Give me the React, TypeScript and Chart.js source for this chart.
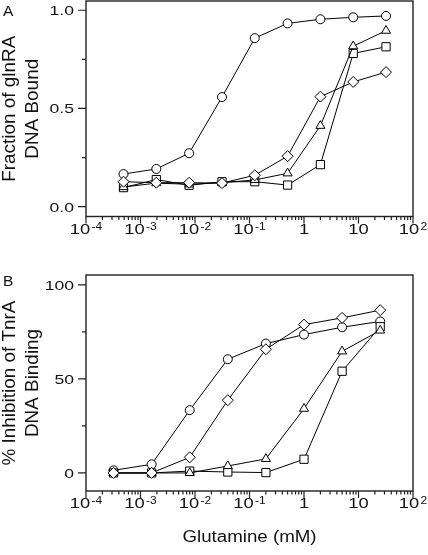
import React, { useEffect, useRef } from "react";
import { Chart, registerables } from "chart.js";

Chart.register(...registerables);

const FONT = '"Liberation Sans", Arial, Helvetica, sans-serif';

// Panel A: glutamine (mM) vs fraction of glnRA DNA bound
const concA = [0.000488, 0.00195, 0.0078, 0.0313, 0.125, 0.5, 2, 8, 32];
const boundCircle = [0.166, 0.192, 0.272, 0.558, 0.858, 0.933, 0.954, 0.964, 0.971];
const boundSquare = [0.097, 0.138, 0.109, 0.127, 0.127, 0.11, 0.214, 0.78, 0.814];
const boundTriangle = [0.1, 0.12, 0.114, 0.122, 0.136, 0.17, 0.412, 0.817, 0.896];
const boundDiamond = [0.127, 0.122, 0.122, 0.12, 0.16, 0.257, 0.56, 0.635, 0.685];

// Panel B: glutamine (mM) vs % inhibition of TnrA DNA binding
const concB = [0.00032, 0.0016, 0.008, 0.04, 0.2, 1, 5, 25];
const inhibCircle = [1.4, 4.6, 33.4, 60.5, 68.8, 73.6, 77.5, 80.6];
const inhibSquare = [0, 0, 1, 0.5, 0.2, 7.3, 54.1, 77.8];
const inhibTriangle = [0, 0, 0, 3.7, 7.5, 34.2, 64.7, 75.8];
const inhibDiamond = [0, 0, 8.3, 38.7, 65.8, 78.9, 82.5, 86.6];

// Axis ticks
const xDecades = [-4, -3, -2, -1, 0, 1, 2];
const yMajorA = [0, 0.5, 1.0];
const yMinorA = [0.25, 0.75];
const yLabelsA = ["0.0", "0.5", "1.0"];
const yMajorB = [0, 50, 100];
const yMinorB = [25, 75];
const yLabelsB = ["0", "50", "100"];

function txt(
  ctx: CanvasRenderingContext2D,
  s: string,
  x: number,
  y: number,
  size: number,
  sx: number,
  align: CanvasTextAlign,
  rot = 0
) {
  ctx.save();
  ctx.translate(x, y);
  if (rot) ctx.rotate(rot);
  ctx.scale(sx, 1);
  ctx.font = `${size}px ${FONT}`;
  ctx.textAlign = align;
  ctx.textBaseline = "alphabetic";
  ctx.fillStyle = "#111";
  ctx.fillText(s, 0, 0);
  ctx.restore();
}

function measure(ctx: CanvasRenderingContext2D, s: string, size: number, sx: number) {
  ctx.save();
  ctx.font = `${size}px ${FONT}`;
  const w = ctx.measureText(s).width * sx;
  ctx.restore();
  return w;
}

type PanelOpts = {
  letter: string;
  titleLines: string[];
  yMajor: number[];
  yMinor: number[];
  yLabels: string[];
  letterBaseline: number;
};

function makePlugin(o: PanelOpts) {
  return {
    id: "customAxes",
    beforeDatasetsDraw(chart: any) {
      const ctx: CanvasRenderingContext2D = chart.ctx;
      const a = chart.chartArea;
      const xs = chart.scales.x;
      const ys = chart.scales.y;
      ctx.save();
      ctx.strokeStyle = "#222";
      ctx.lineWidth = 1.4;
      ctx.strokeRect(a.left, a.top, a.right - a.left, a.bottom - a.top);
      ctx.lineWidth = 1.2;
      ctx.beginPath();
      // x ticks
      for (const d of xDecades) {
        const px = xs.getPixelForValue(Math.pow(10, d));
        ctx.moveTo(px, a.bottom);
        ctx.lineTo(px, a.bottom + 7);
        if (d < 2) {
          for (let k = 2; k <= 9; k++) {
            const pm = xs.getPixelForValue(k * Math.pow(10, d));
            ctx.moveTo(pm, a.bottom);
            ctx.lineTo(pm, a.bottom + 3.5);
          }
        }
      }
      // y ticks
      for (const v of o.yMajor) {
        const py = ys.getPixelForValue(v);
        ctx.moveTo(a.left, py);
        ctx.lineTo(a.left - 8, py);
      }
      for (const v of o.yMinor) {
        const py = ys.getPixelForValue(v);
        ctx.moveTo(a.left, py);
        ctx.lineTo(a.left - 4, py);
      }
      ctx.stroke();
      ctx.restore();
    },
    afterDraw(chart: any) {
      const ctx: CanvasRenderingContext2D = chart.ctx;
      const a = chart.chartArea;
      const xs = chart.scales.x;
      const ys = chart.scales.y;
      // y tick labels
      const ySize = 13.5;
      o.yMajor.forEach((v, i) => {
        const py = ys.getPixelForValue(v);
        txt(ctx, o.yLabels[i], a.left - 12, py + ySize * 0.716 / 2, ySize, 1.3, "right");
      });
      // x tick labels
      const mSize = 15;
      const mSx = 1.22;
      const sSize = 10;
      const sSx = 1.2;
      const base = a.bottom + 17;
      for (const d of xDecades) {
        const px = xs.getPixelForValue(Math.pow(10, d));
        if (d === 0 || d === 1) {
          txt(ctx, d === 0 ? "1" : "10", px, base, mSize, mSx, "center");
        } else {
          const sup = String(d);
          const wm = measure(ctx, "10", mSize, mSx);
          const ws = measure(ctx, sup, sSize, sSx);
          const total = wm + 1.5 + ws;
          const start = px - total / 2;
          txt(ctx, "10", start, base, mSize, mSx, "left");
          const supBase = base - (mSize * 0.716 - sSize * 0.716);
          txt(ctx, sup, start + wm + 1.5, supBase, sSize, sSx, "left");
        }
      }
      // y title (rotated)
      const cy = (a.top + a.bottom) / 2;
      const tSize = 18;
      const tSx = 1.05;
      txt(ctx, o.titleLines[0], 14.5, cy, tSize, tSx, "center", -Math.PI / 2);
      txt(ctx, o.titleLines[1], 38, cy, tSize, tSx, "center", -Math.PI / 2);
      // panel letter
      txt(ctx, o.letter, 3, o.letterBaseline, 15.5, 1.0, "left");
    },
  };
}

function lineDataset(data: number[], xs: number[], style: string, radius: number) {
  return {
    data: xs.map((x, i) => ({ x, y: data[i] })),
    borderColor: "#000",
    borderWidth: 1,
    pointStyle: style,
    pointRadius: radius,
    pointBackgroundColor: "#fff",
    pointBorderColor: "#000",
    pointBorderWidth: 1,
    tension: 0,
    fill: false,
  };
}

function makeConfig(
  xs: number[],
  series: { data: number[]; style: string; radius: number }[],
  yMin: number,
  yMax: number,
  padding: { left: number; right: number; top: number; bottom: number },
  o: PanelOpts
): any {
  return {
    type: "line",
    data: {
      datasets: series.map((s) => lineDataset(s.data, xs, s.style, s.radius)),
    },
    options: {
      animation: false,
      responsive: false,
      devicePixelRatio: 1,
      layout: { padding, autoPadding: false },
      plugins: { legend: { display: false }, tooltip: { enabled: false } },
      scales: {
        x: { type: "logarithmic", min: 1e-4, max: 1e2, display: false },
        y: { type: "linear", min: yMin, max: yMax, display: false },
      },
      elements: { line: { tension: 0 } },
    },
    plugins: [makePlugin(o)],
  };
}

export default function App() {
  const refA = useRef<HTMLCanvasElement | null>(null);
  const refB = useRef<HTMLCanvasElement | null>(null);

  useEffect(() => {
    const chartA = new Chart(
      refA.current as HTMLCanvasElement,
      makeConfig(
        concA,
        [
          { data: boundDiamond, style: "rectRot", radius: 5.5 },
          { data: boundTriangle, style: "triangle", radius: 5.2 },
          { data: boundSquare, style: "rect", radius: 5.8 },
          { data: boundCircle, style: "circle", radius: 4.5 },
        ],
        -0.05,
        1.047,
        { left: 86, right: 15, top: 1, bottom: 45.5 },
        {
          letter: "A",
          titleLines: ["Fraction of glnRA", "DNA Bound"],
          yMajor: yMajorA,
          yMinor: yMinorA,
          yLabels: yLabelsA,
          letterBaseline: 16,
        }
      )
    );
    const chartB = new Chart(
      refB.current as HTMLCanvasElement,
      makeConfig(
        concB,
        [
          { data: inhibDiamond, style: "rectRot", radius: 5.5 },
          { data: inhibTriangle, style: "triangle", radius: 5.2 },
          { data: inhibSquare, style: "rect", radius: 5.8 },
          { data: inhibCircle, style: "circle", radius: 4.5 },
        ],
        -9.6,
        105.3,
        { left: 86, right: 15, top: 13, bottom: 64 },
        {
          letter: "B",
          titleLines: ["% Inhibition of TnrA", "DNA Binding"],
          yMajor: yMajorB,
          yMinor: yMinorB,
          yLabels: yLabelsB,
          letterBaseline: 24,
        }
      )
    );
    return () => {
      chartA.destroy();
      chartB.destroy();
    };
  }, []);

  return (
    <div
      style={{
        position: "absolute",
        left: 0,
        top: 0,
        width: 428,
        height: 555,
        background: "#fff",
        fontFamily: FONT,
      }}
    >
      <canvas
        ref={refA}
        width={428}
        height={262}
        style={{ position: "absolute", left: 0, top: 0, width: 428, height: 262 }}
      />
      <canvas
        ref={refB}
        width={428}
        height={293}
        style={{ position: "absolute", left: 0, top: 262, width: 428, height: 293 }}
      />
      <div
        style={{
          position: "absolute",
          left: 86,
          width: 327,
          top: 528,
          textAlign: "center",
          fontSize: 16,
          lineHeight: "18px",
          color: "#111",
          fontFamily: FONT,
          transform: "scaleX(1.17)",
        }}
      >
        Glutamine (mM)
      </div>
    </div>
  );
}
